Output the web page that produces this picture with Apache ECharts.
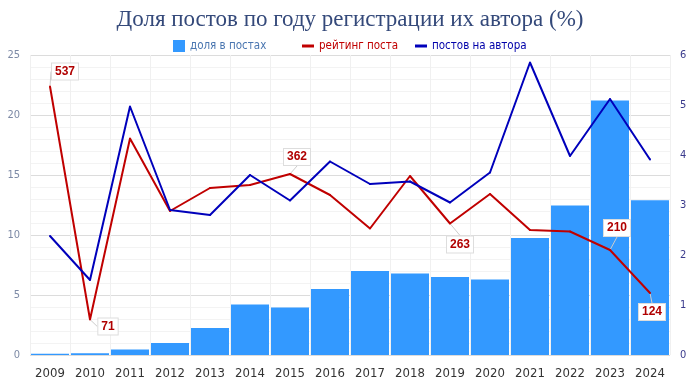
<!DOCTYPE html>
<html><head><meta charset="utf-8">
<script src="https://cdn.jsdelivr.net/npm/echarts@6/dist/echarts.min.js"></script>
<style>html,body{margin:0;padding:0;background:#fff}#c{width:700px;height:383px}</style>
</head><body><div id="c"></div>
<script>
const years = ['2009','2010','2011','2012','2013','2014','2015','2016','2017','2018','2019','2020','2021','2022','2023','2024'];
const sharePosts = [0.1,0.15,0.45,1.0,2.25,4.2,3.95,5.5,7.0,6.8,6.5,6.3,9.75,12.45,21.2,12.9];
const rating = [537,71,433,288,334,340,362,320,253,358,263,322,250,247,210,124];
const postsPerAuthor = [2.38,1.5,4.97,2.9,2.8,3.6,3.09,3.87,3.42,3.47,3.05,3.65,5.85,3.98,5.12,3.91];
const leftTicks = [0,5,10,15,20,25];
const rightTicks = [0,1,2,3,4,5,6];
const ratingLabelIdx = [0,1,6,10,14,15];
const labelShift = {0:[15,-15],1:[18,7],6:[7,-17],10:[10,21],14:[7,-22],15:[2,19]};

const font = '"Liberation Sans Narrow","DejaVu Sans Condensed","Noto Sans",sans-serif';
const chart = echarts.init(document.getElementById('c'), null, {renderer:'canvas'});
const ratingData = rating.map((v,i)=>({
  value: v/100,
  label: ratingLabelIdx.includes(i) ? {show:true, formatter: String(v)} : {show:false}
}));
const legendBase = {top:35, itemWidth:12, itemHeight:12, itemGap:6, textStyle:{fontFamily:font, fontSize:11.5}};
chart.setOption({
  animation:false,
  backgroundColor:'#fff',
  title:{text:'Доля постов по году регистрации их автора (%)', left:'center', top:3,
    textStyle:{fontFamily:'"Liberation Serif","DejaVu Serif",serif', fontWeight:'normal', fontSize:23, color:'#34497a'}},
  legend:[
    Object.assign({}, legendBase, {left:168, data:[{name:'доля в постах', icon:'rect', textStyle:{color:'#4a76b0'}}]}),
    Object.assign({}, legendBase, {left:297, data:[{name:'рейтинг поста', icon:'path://M0,0h12v3h-12z', itemStyle:{color:'#c00000'}, textStyle:{color:'#c00000'}}]}),
    Object.assign({}, legendBase, {left:410, data:[{name:'постов на автора', icon:'path://M0,0h12v3h-12z', itemStyle:{color:'#0000bb'}, textStyle:{color:'#0000aa'}}]})
  ],
  grid:{left:30, right:30, top:55, bottom:28},
  xAxis:{type:'category', data:years, boundaryGap:true,
    axisLine:{show:false}, axisTick:{show:false},
    axisLabel:{fontFamily:font, fontSize:13, color:'#333', margin:12},
    splitLine:{show:true, lineStyle:{color:'#f0f0f0'}}},
  yAxis:[
    {type:'value', min:0, max:25, interval:5,
     axisLine:{show:false}, axisTick:{show:false},
     axisLabel:{fontFamily:font, fontSize:11, color:'#7d8aa6', margin:10, formatter:v=>leftTicks.includes(v)?String(v):''},
     splitLine:{lineStyle:{color:'#dcdcdc'}},
     minorTick:{show:false, splitNumber:5},
     minorSplitLine:{show:true, lineStyle:{color:'#f3f3f3'}}},
    {type:'value', min:0, max:6, interval:1, position:'right',
     axisLine:{show:false}, axisTick:{show:false},
     axisLabel:{fontFamily:font, fontSize:11, color:'#3a3a8c', margin:10, formatter:v=>rightTicks.includes(v)?String(v):''},
     splitLine:{show:false}}
  ],
  series:[
    {name:'доля в постах', type:'bar', yAxisIndex:0, data:sharePosts, barCategoryGap:'5%',
     itemStyle:{color:'#3399ff'}, emphasis:{disabled:true}},
    {name:'рейтинг поста', type:'line', yAxisIndex:1, data:ratingData,
     symbol:'circle', symbolSize:2, showSymbol:true,
     lineStyle:{color:'#c00000', width:2}, itemStyle:{color:'#c00000'},
     label:{position:'inside', fontFamily:'"Liberation Sans","Noto Sans",sans-serif', fontWeight:'bold', fontSize:12,
       color:'#b00000', backgroundColor:'#fff', borderColor:'#dddddd', borderWidth:1, padding:[2,3]},
     labelLine:{show:true, lineStyle:{color:'#cccccc', width:1}},
     labelLayout:function(p){const s=labelShift[p.dataIndex]; return s?{dx:s[0],dy:s[1]}:{};},
     emphasis:{disabled:true}, z:3},
    {name:'постов на автора', type:'line', yAxisIndex:1, data:postsPerAuthor,
     symbol:'circle', symbolSize:2, showSymbol:true,
     lineStyle:{color:'#0000bb', width:2}, itemStyle:{color:'#0000bb'},
     emphasis:{disabled:true}, z:4}
  ]
});
</script></body></html>
